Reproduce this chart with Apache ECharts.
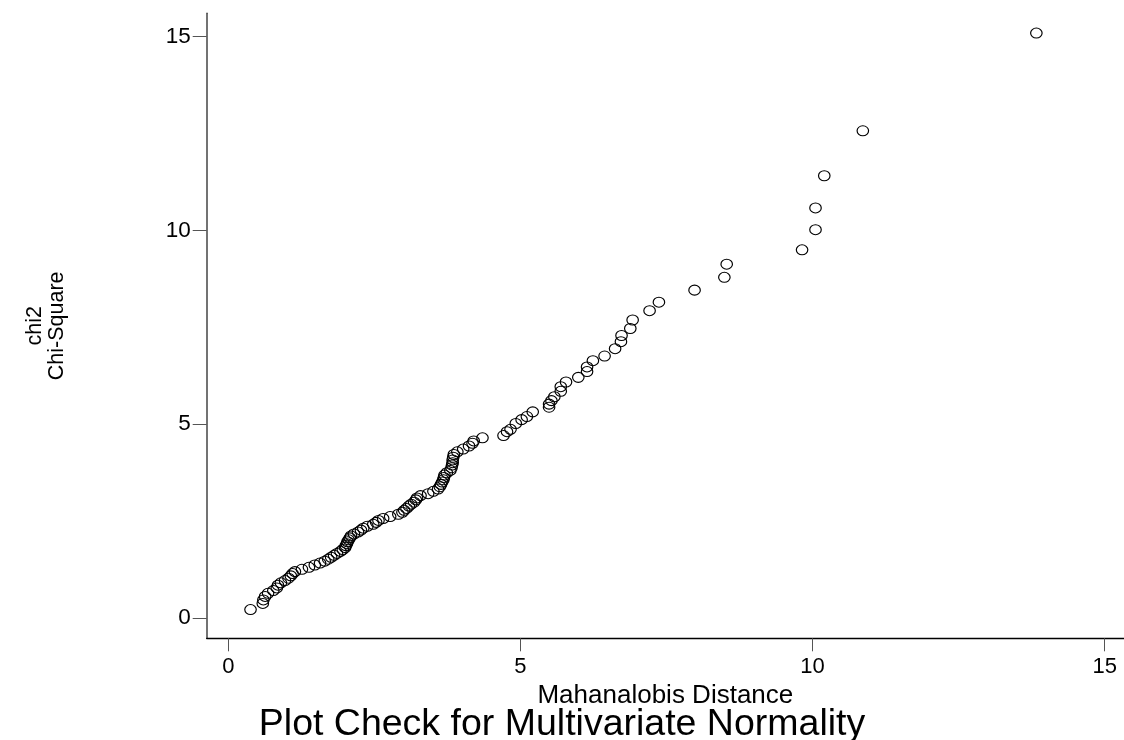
<!DOCTYPE html>
<html>
<head>
<meta charset="utf-8">
<script src="https://cdn.jsdelivr.net/npm/echarts@6/dist/echarts.min.js"></script>
<style>
html,body{margin:0;padding:0;background:#fff;}
#chart{width:1124px;height:740px;}
</style>
</head>
<body>
<div id="chart"></div>
<script>
// Mahalanobis distance (sorted) vs chi-square quantile
var mahalanobis = [
  0.38,0.59,0.60,0.63,0.68,0.77,0.83,0.85,0.90,0.97,
  1.03,1.07,1.10,1.14,1.26,1.38,1.48,1.57,1.65,1.71,1.76,1.81,1.86,1.92,1.96,2.00,2.01,2.03,2.04,
  2.06,2.08,2.10,2.15,2.22,2.27,2.31,2.38,2.48,2.53,2.57,2.65,2.77,2.91,2.98,3.01,3.05,3.09,3.13,3.18,
  3.21,3.23,3.29,3.42,3.51,3.59,3.62,3.64,3.66,3.68,3.69,3.70,3.74,3.80,3.82,3.83,
  3.84,3.84,3.85,3.86,3.92,4.02,4.12,4.18,4.20,4.35,
  4.71,4.77,4.83,4.92,5.02,5.11,5.21,5.49,5.49,5.53,5.58,5.69,5.69,5.78,5.99,6.14,6.14,6.24,6.44,6.62,
  6.72,6.73,6.88,6.92,7.21,7.37,7.98,8.49,8.53,9.82,10.05,10.05,10.20,10.86,13.83
];
var chiSquare = [
  0.22,0.38,0.47,0.56,0.64,0.71,0.78,0.85,0.91,0.97,
  1.03,1.09,1.15,1.20,1.26,1.31,1.37,1.42,1.47,1.52,1.57,1.62,1.67,1.72,1.77,1.82,1.87,1.92,1.97,
  2.02,2.07,2.12,2.17,2.22,2.27,2.32,2.37,2.42,2.47,2.52,2.57,2.62,2.68,2.73,2.78,2.83,2.89,2.94,2.99,
  3.05,3.10,3.16,3.21,3.27,3.33,3.39,3.45,3.51,3.57,3.63,3.69,3.75,3.81,3.88,3.95,
  4.01,4.08,4.15,4.22,4.29,4.36,4.44,4.51,4.57,4.65,
  4.71,4.81,4.87,5.02,5.12,5.20,5.32,5.44,5.52,5.61,5.71,5.85,5.97,6.09,6.21,6.36,6.48,6.64,6.76,6.95,
  7.13,7.29,7.47,7.69,7.93,8.15,8.46,8.79,9.13,9.50,10.02,10.58,11.41,12.57,15.09
];
var xTicks = [0, 5, 10, 15];
var yTicks = [0, 5, 10, 15];
var titleText = 'Plot Check for Multivariate Normality';
var xTitle = 'Mahanalobis Distance';
var yTitle = 'chi2\nChi-Square';

var points = mahalanobis.map(function (x, i) { return [x, chiSquare[i]]; });
var FONT = '"Liberation Sans", Arial, sans-serif';

var chart = echarts.init(document.getElementById('chart'), null, {renderer: 'canvas'});
chart.setOption({
  animation: false,
  backgroundColor: '#ffffff',
  title: {
    text: titleText,
    left: 'center',
    top: 701,
    textStyle: {fontFamily: FONT, fontSize: 37.5, fontWeight: 'normal', color: '#000'}
  },
  grid: {left: 206.7, right: 0, top: 13.3, bottom: 101.7, containLabel: false},
  xAxis: {
    type: 'value',
    min: -0.37,
    max: 15.33,
    name: xTitle,
    nameLocation: 'middle',
    nameGap: 37,
    nameTextStyle: {fontFamily: FONT, fontSize: 26, color: '#000'},
    axisLine: {show: true, onZero: false, lineStyle: {color: '#000', width: 1.3}},
    axisTick: {show: true, length: 13, customValues: xTicks, lineStyle: {color: '#555', width: 1}},
    axisLabel: {customValues: xTicks, margin: 18, fontFamily: FONT, fontSize: 22, color: '#000'},
    splitLine: {show: false}
  },
  yAxis: {
    type: 'value',
    min: -0.52,
    max: 15.6,
    name: yTitle,
    nameLocation: 'middle',
    nameRotate: 90,
    nameGap: 139,
    nameTextStyle: {fontFamily: FONT, fontSize: 21.5, lineHeight: 22, color: '#000', align: 'center'},
    axisLine: {show: true, onZero: false, lineStyle: {color: '#444', width: 1.5}},
    axisTick: {show: true, length: 14, customValues: yTicks, lineStyle: {color: '#555', width: 1}},
    axisLabel: {customValues: yTicks, margin: 16, fontFamily: FONT, fontSize: 22.5, color: '#000'},
    splitLine: {show: false}
  },
  series: [{
    type: 'scatter',
    data: points,
    symbol: 'circle',
    symbolSize: [11.5, 10],
    itemStyle: {color: 'rgba(0,0,0,0)', borderColor: '#000', borderWidth: 1.1, opacity: 1}
  }]
});
</script>
</body>
</html>
